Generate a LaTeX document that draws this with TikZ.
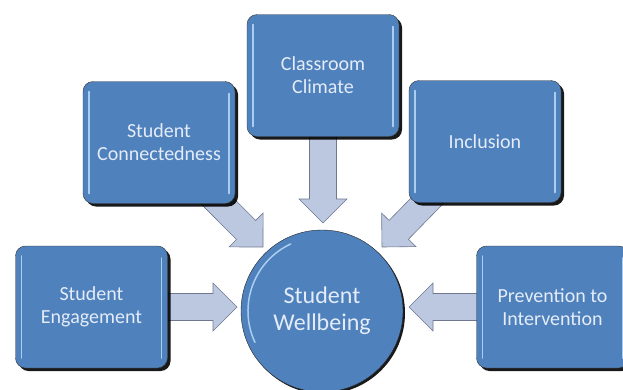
\documentclass[tikz,border=0pt]{standalone}
\usepackage{fontspec}
\setmainfont{Carlito}
\usetikzlibrary{calc,shadows,backgrounds}
\definecolor{boxblue}{RGB}{79,129,189}
\definecolor{boxtext}{RGB}{228,236,248}
\definecolor{arrowfill}{RGB}{188,199,224}
\definecolor{arrowline}{RGB}{110,120,145}
\definecolor{shineblue}{RGB}{170,205,240}
\tikzset{
      shine/.style   = {shineblue, line width=1.5pt, line cap=round},
      topic/.style   = {draw=black!80, fill=boxblue, text=boxtext, rounded corners=10pt,
                        minimum width=152pt, minimum height=122pt, inner sep=0pt, align=center,
                        font=\fontsize{20}{23}\selectfont,
                        drop shadow={shadow xshift=3pt, shadow yshift=-3pt, fill=black, opacity=0.9},
                        path picture={
                          \draw[shine] ($(path picture bounding box.north west)+(6pt,-10pt)$) -- ($(path picture bounding box.south west)+(6pt,10pt)$);
                          \draw[shine] ($(path picture bounding box.north east)+(-6pt,-12pt)$) -- ($(path picture bounding box.south east)+(-6pt,10pt)$);
                        }},
      hub/.style     = {circle, draw=black!85, fill=boxblue, text=boxtext, minimum size=162pt,
                        inner sep=0pt, align=center, font=\fontsize{24}{27}\selectfont,
                        drop shadow={shadow xshift=2pt, shadow yshift=-2pt, fill=black, opacity=0.9},
                        path picture={
                          \draw[shine] ($(path picture bounding box.center)+(115:74pt)$) arc[start angle=115, end angle=205, radius=74pt];
                        }},
      fatarrow/.style = {fill=arrowfill, draw=arrowline, line width=0.6pt},
    }
% broad arrow from #1 to the tip #2
\newcommand{\bigarrow}[2]{%
  \coordinate (h) at ($(#2)!24pt!(#1)$);
  \draw[fatarrow] ($(#1)!13.5pt!90:(#2)$) -- ($(h)!13.5pt!-90:(#1)$) -- ($(h)!24pt!-90:(#1)$)
    -- (#2) -- ($(h)!24pt!90:(#1)$) -- ($(h)!13.5pt!90:(#1)$) -- ($(#1)!13.5pt!-90:(#2)$) -- cycle;
}

\begin{document}
\begin{tikzpicture}[x=1pt,y=-1pt]
    \useasboundingbox (0,0) rectangle (623,389);

    \node [topic] (climate) at (323,75.5)  {Classroom\\Climate};
    \node [topic] (connect) at (159,142.5) {Student\\Connectedness};
    \node [topic] (incl)    at (485,141.5) {Inclusion};
    \node [topic] (engage)  at (91.5,307)  {Student\\Engagement};
    \node [topic] (prevent) at (552.5,307) {Prevention to\\Intervention};
    \node [hub]   (well)    at (322,311)   {Student\\Wellbeing};

    \coordinate (tclimate) at (323,223);
    \coordinate (tconnect) at (263,247);
    \coordinate (tincl)    at (382,247);
    \coordinate (tengage)  at (237,307);
    \coordinate (tprevent) at (409,307);

    \begin{scope}[on background layer]
        \bigarrow{climate}{tclimate}
        \bigarrow{connect}{tconnect}
        \bigarrow{incl}{tincl}
        \bigarrow{engage}{tengage}
        \bigarrow{prevent}{tprevent}
    \end{scope}
\end{tikzpicture}
\end{document}
